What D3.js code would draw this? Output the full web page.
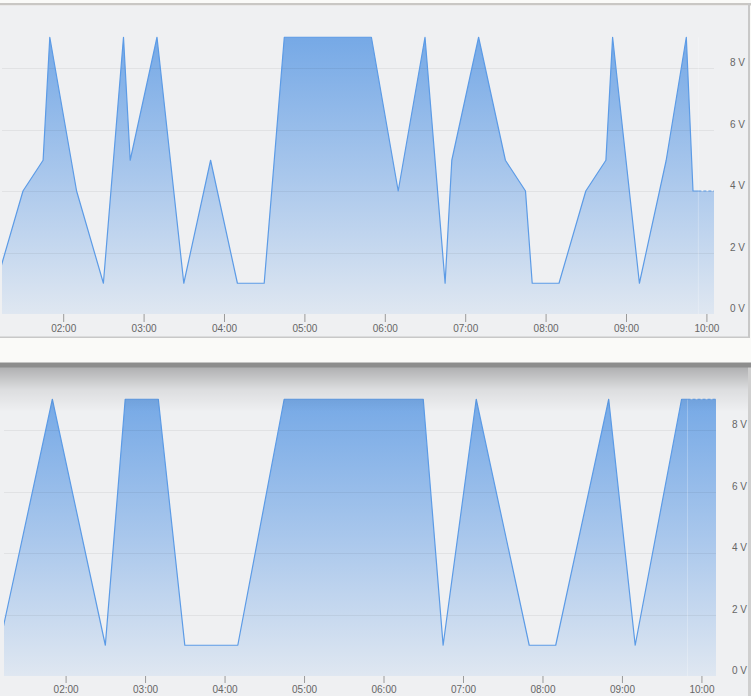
<!DOCTYPE html>
<html lang="en">
<meta charset="utf-8">
<head>
    <script src="https://d3js.org/d3.v7.min.js"></script>
    <style>
        body { margin: 0; background: #fafaf8; }
        svg { display: block; font-family: Roboto, "Liberation Sans", sans-serif; }
    </style>
</head>
<body>
<script>

// voltage readings, upper panel
var topTimes = ["01:10","01:30","01:45","01:50","02:10","02:30","02:45","02:50","03:10","03:30",
                "03:50","04:10","04:30","04:45","05:50","06:10","06:30","06:45","06:50","07:10",
                "07:30","07:45","07:50","08:10","08:30","08:45","08:50","09:10","09:30","09:45",
                "09:50","10:10"];
var topVolts = [1,4,5,9,4,1,9,5,9,1, 5,1,1,9,9,4,9,1,5,9, 5,4,1,1,4,5,9,1,5,9, 4,4];

// voltage readings, lower panel
var bottomTimes = ["01:10","01:50","02:30","02:45","03:10","03:30","04:10","04:45","06:30","06:45",
                   "07:10","07:50","08:10","08:50","09:10","09:45","10:15"];
var bottomVolts = [1,9,1,9,9,1,1,9,9,1, 9,1,1,9,1,9,9];

var voltTicks = [0, 2, 4, 6, 8];

var parseTime = d3.timeParse("%H:%M:%S");
function t(s) { return parseTime(s.length == 5 ? s + ":00" : s); }

var width = 751, height = 696;

var svg = d3.select("body").append("svg")
    .attr("width", width)
    .attr("height", height);

var defs = svg.append("defs");

// page chrome
svg.append("rect").attr("x", 0).attr("y", 0).attr("width", width).attr("height", height).attr("fill", "#fafaf8");

// top panel frame
svg.append("rect").attr("x", 0).attr("y", 3).attr("width", 751).attr("height", 2.5).attr("fill", "#c9c7c4");
svg.append("rect").attr("x", 0).attr("y", 5.5).attr("width", 748).attr("height", 331.5).attr("fill", "#eff0f2");
svg.append("rect").attr("x", 748).attr("y", 3).attr("width", 2).attr("height", 335).attr("fill", "#c8c8c8");
svg.append("rect").attr("x", 0).attr("y", 336.5).attr("width", 750).attr("height", 1.5).attr("fill", "#c8c8c8");

// bottom panel frame
svg.append("rect").attr("x", 0).attr("y", 367).attr("width", 748).attr("height", 329).attr("fill", "#eff0f2");
svg.append("rect").attr("x", 748).attr("y", 363).attr("width", 3).attr("height", 333).attr("fill", "#cfcfcf");

var shade = defs.append("linearGradient")
    .attr("id", "shade")
    .attr("gradientUnits", "userSpaceOnUse")
    .attr("x1", 0).attr("y1", 367).attr("x2", 0).attr("y2", 412);
shade.append("stop").attr("offset", 0).attr("stop-color", "#000").attr("stop-opacity", 0.27);
shade.append("stop").attr("offset", 0.5).attr("stop-color", "#000").attr("stop-opacity", 0.08);
shade.append("stop").attr("offset", 1).attr("stop-color", "#000").attr("stop-opacity", 0);

function drawPanel(opts) {
    var times = opts.times.map(t);
    var data = times.map(function(d, i) { return {x: d, y: opts.volts[i]}; });

    var x = d3.scaleTime()
        .domain([t(opts.start), t(opts.end)])
        .range([opts.left, opts.right]);

    var y = d3.scaleLinear()
        .domain([0, 9])
        .range([opts.base, opts.base - 9 * 30.75]);

    var g = svg.append("g");

    var clipId = "clip-" + opts.id;
    defs.append("clipPath").attr("id", clipId)
        .append("rect")
        .attr("x", opts.left).attr("y", opts.base - 300)
        .attr("width", opts.right - opts.left).attr("height", 300);

    var grad = defs.append("linearGradient")
        .attr("id", "fill-" + opts.id)
        .attr("gradientUnits", "userSpaceOnUse")
        .attr("x1", 0).attr("y1", y(9)).attr("x2", 0).attr("y2", y(0));
    grad.append("stop").attr("offset", 0).attr("stop-color", "#76a9e6");
    grad.append("stop").attr("offset", 0.5).attr("stop-color", "#a9c7ec");
    grad.append("stop").attr("offset", 1).attr("stop-color", "#dfe7f1");

    var plot = g.append("g").attr("clip-path", "url(#" + clipId + ")");

    plot.append("path")
        .datum(data)
        .attr("fill", "url(#fill-" + opts.id + ")")
        .attr("d", d3.area()
            .x(function(d) { return x(d.x) })
            .y0(y(0))
            .y1(function(d) { return y(d.y) })
        );

    // grid lines over the area
    plot.selectAll(".grid")
        .data(voltTicks.slice(1))
        .enter().append("line")
        .attr("x1", opts.left).attr("x2", opts.right)
        .attr("y1", function(d) { return Math.round(y(d)) + 0.5 })
        .attr("y2", function(d) { return Math.round(y(d)) + 0.5 })
        .attr("stroke", "#000")
        .attr("stroke-opacity", 0.055);

    // now marker
    var nowX = x(t(opts.now));
    plot.append("line")
        .attr("x1", nowX).attr("x2", nowX)
        .attr("y1", y(9)).attr("y2", y(0))
        .attr("stroke", "#fff").attr("stroke-opacity", 0.25);

    var past = data.filter(function(d) { return d.x <= t(opts.now) });
    var future = data.filter(function(d) { return d.x >= t(opts.now) });
    var nowVal = past[past.length - 1].y;
    past.push({x: t(opts.now), y: nowVal});
    future.unshift({x: t(opts.now), y: nowVal});

    var line = d3.line()
        .x(function(d) { return x(d.x) })
        .y(function(d) { return y(d.y) });

    plot.append("path")
        .datum(past)
        .attr("fill", "none")
        .attr("stroke", "#5c9be6")
        .attr("stroke-width", 1.2)
        .attr("stroke-linejoin", "round")
        .attr("d", line);

    plot.append("path")
        .datum(future)
        .attr("fill", "none")
        .attr("stroke", "#5c9be6")
        .attr("stroke-width", 1.2)
        .attr("stroke-dasharray", "3,2")
        .attr("d", line);

    // x axis
    var xAxis = g.append("g")
        .attr("transform", "translate(0," + opts.base + ")")
        .call(d3.axisBottom(x)
            .ticks(d3.timeHour.every(1))
            .tickFormat(d3.timeFormat("%H:%M"))
            .tickSize(opts.tick)
            .tickPadding(3));
    xAxis.select(".domain").remove();
    xAxis.selectAll("line").attr("stroke", "#9a9a9a");
    xAxis.selectAll("text").attr("fill", "#666").style("font-size", "10px");

    // y axis labels
    var yAxis = g.append("g")
        .attr("transform", "translate(" + opts.labelX + ",0)")
        .call(d3.axisRight(y)
            .tickValues(voltTicks)
            .tickFormat(function(d) { return d + " V" })
            .tickSize(0)
            .tickPadding(0));
    yAxis.select(".domain").remove();
    yAxis.selectAll("text")
        .attr("fill", "#666")
        .attr("y", -2.5)
        .attr("dy", 0)
        .style("font-size", "10px");
}

drawPanel({
    id: "top", times: topTimes, volts: topVolts,
    start: "01:14:20", end: "10:05:40", now: "09:54:00",
    left: 2, right: 714, base: 314, tick: 8, labelX: 730
});

drawPanel({
    id: "bottom", times: bottomTimes, volts: bottomVolts,
    start: "01:13:30", end: "10:11:00", now: "09:49:30",
    left: 4, right: 716, base: 676, tick: 7, labelX: 732
});

// header shading of the lower panel
svg.append("rect").attr("x", 0).attr("y", 367).attr("width", 748).attr("height", 46).attr("fill", "url(#shade)");
svg.append("rect").attr("x", 0).attr("y", 362.5).attr("width", 751).attr("height", 5).attr("fill", "#8d8d8d");

</script>
</body>
</html>
